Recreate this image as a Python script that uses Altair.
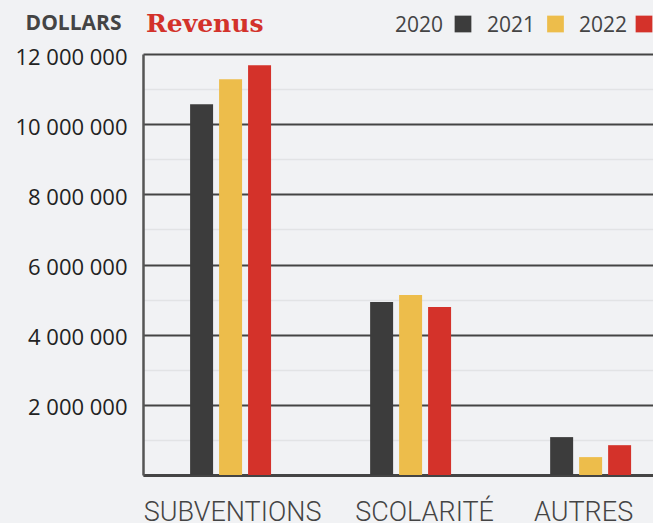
import altair as alt
import pandas as pd

categories = ["SUBVENTIONS", "SCOLARITÉ", "AUTRES"]
years = ["2020", "2021", "2022"]
colors = ["#3c3c3c", "#edbd4b", "#d4322a"]
v2020 = [10570000, 4930000, 1080000]
v2021 = [11280000, 5130000, 510000]
v2022 = [11680000, 4790000, 850000]
y_ticks = [0, 1000000, 2000000, 3000000, 4000000, 5000000, 6000000,
           7000000, 8000000, 9000000, 10000000, 11000000, 12000000]

rows = []
for yr, vals in zip(years, [v2020, v2021, v2022]):
    for c, v in zip(categories, vals):
        rows.append({"cat": c, "year": yr, "value": v})
df = pd.DataFrame(rows)

bars = alt.Chart(df).mark_bar().encode(
    x=alt.X("cat:N", sort=categories, title=None,
            scale=alt.Scale(paddingInner=0.517, paddingOuter=0.175, align=0.7),
            axis=alt.Axis(labelAngle=0, labelFont="Roboto", labelFontSize=27,
                          labelFontWeight=300, labelColor="#444444",
                          labelPadding=45, labelBaseline="alphabetic",
                          labelOffset={"condition": [
                              {"test": "datum.value == 'SCOLARITÉ'", "value": 14},
                              {"test": "datum.value == 'AUTRES'", "value": -7}],
                              "value": 2},
                          ticks=False, grid=False, domainColor="#444444",
                          domainWidth=3)),
    xOffset=alt.XOffset("year:N", sort=years,
                        scale=alt.Scale(paddingInner=0.207, paddingOuter=0.1035)),
    y=alt.Y("value:Q", scale=alt.Scale(domain=[0, 12000000], nice=False),
            axis=alt.Axis(values=y_ticks, ticks=False,
                          labelExpr="datum.value == 0 || datum.value % 2000000 != 0 ? '' : replace(format(datum.value, ','), /,/g, ' ')",
                          labelFont="Open Sans", labelFontSize=22, labelColor="#222222",
                          labelPadding=16, labelOffset=3,
                          gridColor={"condition": {"test": "datum.value % 2000000 == 0", "value": "#444444"}, "value": "#e2e3e5"},
                          gridWidth={"condition": {"test": "datum.value % 2000000 == 0", "value": 2.2}, "value": 1.5},
                          domainColor="#555555", domainWidth=2.5,
                          title="DOLLARS", titleAngle=0, titleAlign="right",
                          titleBaseline="alphabetic", titleX=-22, titleY=-25,
                          titleFont="Open Sans", titleFontSize=21,
                          titleFontWeight="bold", titleColor="#444444")),
    color=alt.Color("year:N", sort=years,
                    scale=alt.Scale(domain=years, range=colors), legend=None),
)

title = alt.Chart(pd.DataFrame({"t": ["Revenus"]})).mark_text(
    align="left", baseline="alphabetic", font="DejaVu Serif", fontSize=25,
    fontWeight="bold", color="#d3322b"
).encode(text="t:N", x=alt.value(3), y=alt.value(-22))

layers = [bars, title]
text_right = [300, 392, 484]
sq_center = [320, 412.5, 501]
for yr, col, tx, sx in zip(years, colors, text_right, sq_center):
    layers.append(alt.Chart(pd.DataFrame({"t": [yr]})).mark_text(
        align="right", baseline="alphabetic", font="Open Sans", fontSize=21,
        color="#444444").encode(text="t:N", x=alt.value(tx), y=alt.value(-22)))
    layers.append(alt.Chart(pd.DataFrame({"t": [yr]})).mark_square(
        size=280, opacity=1, color=col).encode(x=alt.value(sx), y=alt.value(-30)))

chart = alt.layer(*layers).properties(
    width=510, height=421, background="#f1f2f4",
    autosize=alt.AutoSizeParams(type="none"),
    padding={"left": 143, "top": 54, "right": 0, "bottom": 48},
).configure_view(stroke=None)

chart.save("out.html", embed_options={"renderer": "svg", "actions": False})
